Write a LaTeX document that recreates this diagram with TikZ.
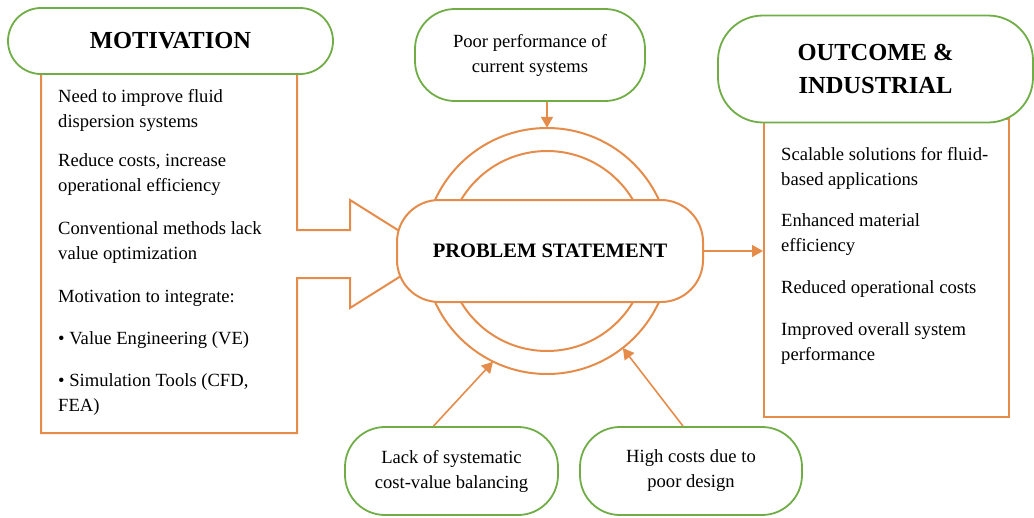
\documentclass[tikz,border=0pt]{standalone}
\usepackage{fontspec}
\setmainfont{Liberation Serif}
\usetikzlibrary{arrows.meta}
\definecolor{pillgreen}{RGB}{112,173,71}
\definecolor{lineorange}{RGB}{230,140,75}
\begin{document}
\begin{tikzpicture}[x=1pt,y=-1pt,
    greenpill/.style={draw=pillgreen,line width=1.8pt,fill=white,rounded corners=40pt,align=center,inner sep=0pt},
    orangeline/.style={draw=lineorange,line width=2pt},
    arr/.style={lineorange,line width=1.6pt,-{Triangle[width=12pt,length=11pt]}},
    body/.style={anchor=north west,align=left,font=\fontsize{18.6}{25}\selectfont,inner sep=0pt},
    every node/.append style={font=\fontsize{18.6}{25}\selectfont}]
    \useasboundingbox (0,0) rectangle (1034,517);
    % motivation box with its arrow
    \draw [orangeline,line join=miter] (41,74) -- (41,433) -- (297,433) -- (297,278) -- (350,278) -- (350,308)
        -- (436,254) -- (350,200) -- (350,230) -- (297,230) -- (297,74);
    \node [body] (motitext) at (58,89) {Need to improve fluid\\dispersion systems\\[14pt]
        Reduce costs, increase\\operational efficiency\\[18pt]
        Conventional methods lack\\value optimization\\[18pt]
        Motivation to integrate:\\[17pt]
        \textbullet\ Value Engineering (VE)\\[17pt]
        \textbullet\ Simulation Tools (CFD,\\FEA)};
    \node [greenpill,rounded corners=33pt,minimum width=325pt,minimum height=66pt,font=\fontsize{24.5}{28}\selectfont\bfseries] (motiv) at (170.5,41) {MOTIVATION};
    % rings and problem statement
    \draw [orangeline] (547,251) circle (123);
    \draw [orangeline] (547,251) circle (100);
    \node [circle,minimum size=246pt,inner sep=0pt] (ring) at (547,251) {};
    \node [draw=lineorange,line width=2pt,fill=white,rounded corners=42pt,minimum width=306pt,minimum height=102pt,
        font=\fontsize{20.5}{22}\selectfont\bfseries] (ps) at (550,251) {PROBLEM STATEMENT};
    % outcome
    \node [draw=lineorange,line width=2pt,minimum width=245pt,minimum height=298pt,inner sep=0pt] (outbox) at (886.5,268) {};
    \node [body] (outtext) at (781,147) {Scalable solutions for fluid-\\based applications\\[16pt]
        Enhanced material\\efficiency\\[17pt]
        Reduced operational costs\\[17pt]
        Improved overall system\\performance};
    \node [greenpill,rounded corners=45pt,minimum width=315pt,minimum height=107pt,font=\fontsize{24.5}{33}\selectfont\bfseries] (outcome) at (875.5,69) {OUTCOME \&\\INDUSTRIAL};
    % causes
    \node [greenpill,minimum width=230pt,minimum height=92pt] (poor) at (530,55) {Poor performance of\\current systems};
    \node [greenpill,minimum width=213pt,minimum height=88pt] (lack) at (451.5,471) {Lack of systematic\\cost-value balancing};
    \node [greenpill,minimum width=222pt,minimum height=88pt] (high) at (691,471) {High costs due to\\poor design};
    % connectors
    \draw [arr] (ring.north |- poor.south) -- (ring.north);
    \draw [arr] ([xshift=-18pt]lack.north) -- (ring.244);
    \draw [arr] ([xshift=-8pt]high.north) -- (ring.308);
    \draw [arr] (ps.east) -- (outbox.west |- ps.east);
\end{tikzpicture}
\end{document}
